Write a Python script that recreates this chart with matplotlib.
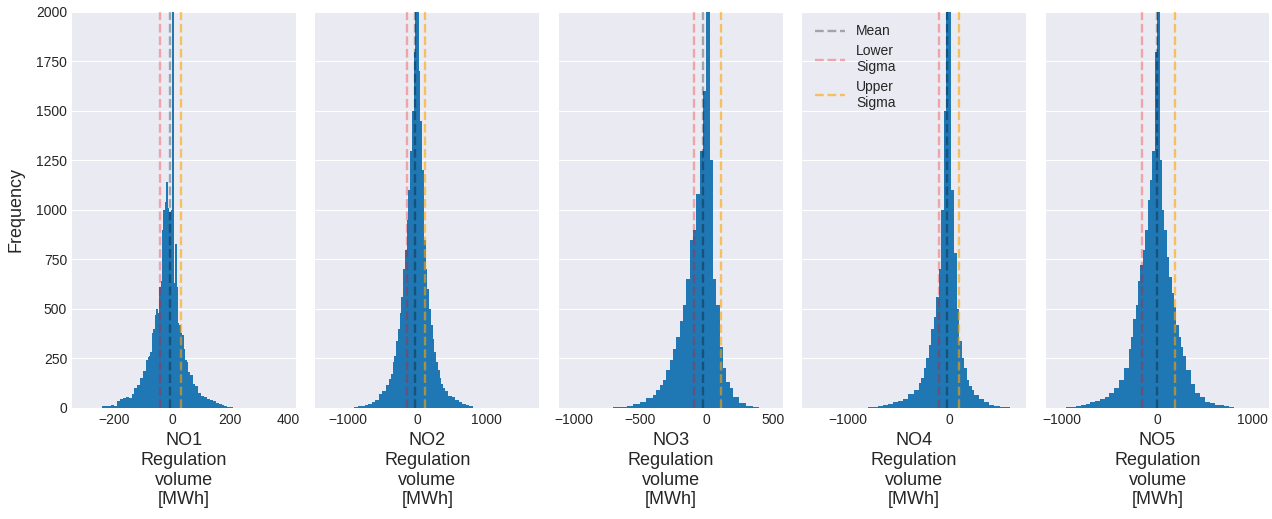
import numpy as np
import matplotlib
matplotlib.use("Agg")
import matplotlib.pyplot as plt

areas = ["NO1", "NO2", "NO3", "NO4", "NO5"]

# histogram bins (edges) and counts per price area
no1_edges = np.concatenate([np.arange(-240, -90, 10), np.arange(-90, 60, 5), np.arange(60, 211, 10)])
no1_counts = [8, 12, 10, 14, 12, 35, 45, 50, 55, 50, 70, 100, 115, 150, 185,
              240, 255, 260, 280, 380, 400, 470, 500, 480, 610, 640, 900, 1000, 1040, 1140,
              1010, 990, 1000, 2600, 630, 830, 610, 430, 420, 380, 370, 300, 240, 230, 180,
              165, 120, 110, 75, 60, 55, 45, 42, 35, 25, 18, 15, 8, 5, 6]

no2_edges = np.concatenate([np.arange(-900, -400, 50), np.arange(-400, 400, 25), np.arange(400, 801, 50)])
no2_counts = [5, 10, 12, 15, 22, 32, 40, 70, 85, 118,
              145, 170, 230, 260, 340, 400, 480, 560, 700, 800, 950, 1100, 1300, 1500, 1800, 2500,
              2500, 1700, 1450, 1200, 850, 700, 600, 500, 420, 350, 280, 230, 190, 150, 120, 100,
              85, 62, 55, 38, 30, 18, 15, 8]

no3_edges = np.concatenate([np.arange(-700, -400, 50), np.arange(-400, 200, 25), np.arange(200, 401, 50)])
no3_counts = [4, 6, 10, 20, 32, 50,
              65, 90, 115, 140, 190, 240, 300, 360, 440, 520, 650, 850, 900, 1080, 1300, 1600,
              2300, 1250, 650, 520, 310, 200, 130, 100,
              55, 25, 10, 5]

no4_edges = np.concatenate([np.arange(-800, -300, 50), np.arange(-300, 250, 25), np.arange(250, 601, 50)])
no4_counts = [4, 6, 12, 15, 20, 28, 35, 45, 70, 90,
              125, 150, 200, 250, 320, 400, 460, 560, 700, 1000, 1500, 2600,
              2100, 1100, 780, 500, 340, 250, 200, 140, 110, 90,
              65, 45, 30, 15, 8, 4, 4]

no5_edges = np.concatenate([np.arange(-950, -300, 50), np.arange(-300, 300, 25), np.arange(300, 801, 50)])
no5_counts = [4, 6, 12, 15, 18, 30, 35, 45, 55, 75, 100, 140, 200,
              300, 360, 450, 520, 640, 720, 800, 900, 1050, 1150, 1300, 1800,
              2300, 1250, 1000, 900, 760, 660, 580, 510, 420, 360, 310, 260,
              190, 120, 75, 55, 30, 25, 17, 14, 8, 6]

# mean and one-sigma bounds [MWh]
means = [-9, -34, -23, -16, -7]
lower_sigma = [-41, -144, -94, -95, -155]
upper_sigma = [32, 120, 110, 103, 184]

edges_all = [no1_edges, no2_edges, no3_edges, no4_edges, no5_edges]
counts_all = [no1_counts, no2_counts, no3_counts, no4_counts, no5_counts]

plt.style.use("seaborn-v0_8-darkgrid")
plt.rcParams["font.family"] = ["Liberation Sans", "DejaVu Sans"]

fig, axes = plt.subplots(1, 5, sharey=True, figsize=(12.72, 5.19), dpi=100)
fig.subplots_adjust(left=0.0566, right=0.998, top=0.977, bottom=0.214, wspace=0.087)

xlims = [(-345, 426), (-1463, 1760), (-1110, 575), (-1450, 762), (-1169, 1175)]
xticks = [[-200, 0, 200, 400], [-1000, 0, 1000], [-1000, -500, 0, 500], [-1000, 0], [-1000, 0, 1000]]

for i, ax in enumerate(axes):
    ax.stairs(counts_all[i], edges_all[i], fill=True, color="#1f77b4")
    ax.axvline(means[i], color="k", linestyle="--", alpha=0.3, lw=1.7, label="Mean")
    ax.axvline(lower_sigma[i], color="red", linestyle="--", alpha=0.3, lw=1.7, label="Lower\nSigma")
    ax.axvline(upper_sigma[i], color="orange", linestyle="--", alpha=0.6, lw=1.7, label="Upper\nSigma")
    ax.set_xlim(*xlims[i])
    ax.set_xticks(xticks[i])
    ax.set_ylim(0, 2000)
    ax.grid(axis="x", visible=False)
    ax.tick_params(labelsize=10)
    ax.set_xlabel(f"{areas[i]}\nRegulation\nvolume\n[MWh]", fontsize=13)

axes[0].set_yticks(np.arange(0, 2001, 250))
axes[0].set_ylabel("Frequency", fontsize=13, labelpad=8)
axes[3].legend(loc="upper left", fontsize=10, handlelength=2.2, labelspacing=0.4)

fig.savefig("out.png", dpi=100)
